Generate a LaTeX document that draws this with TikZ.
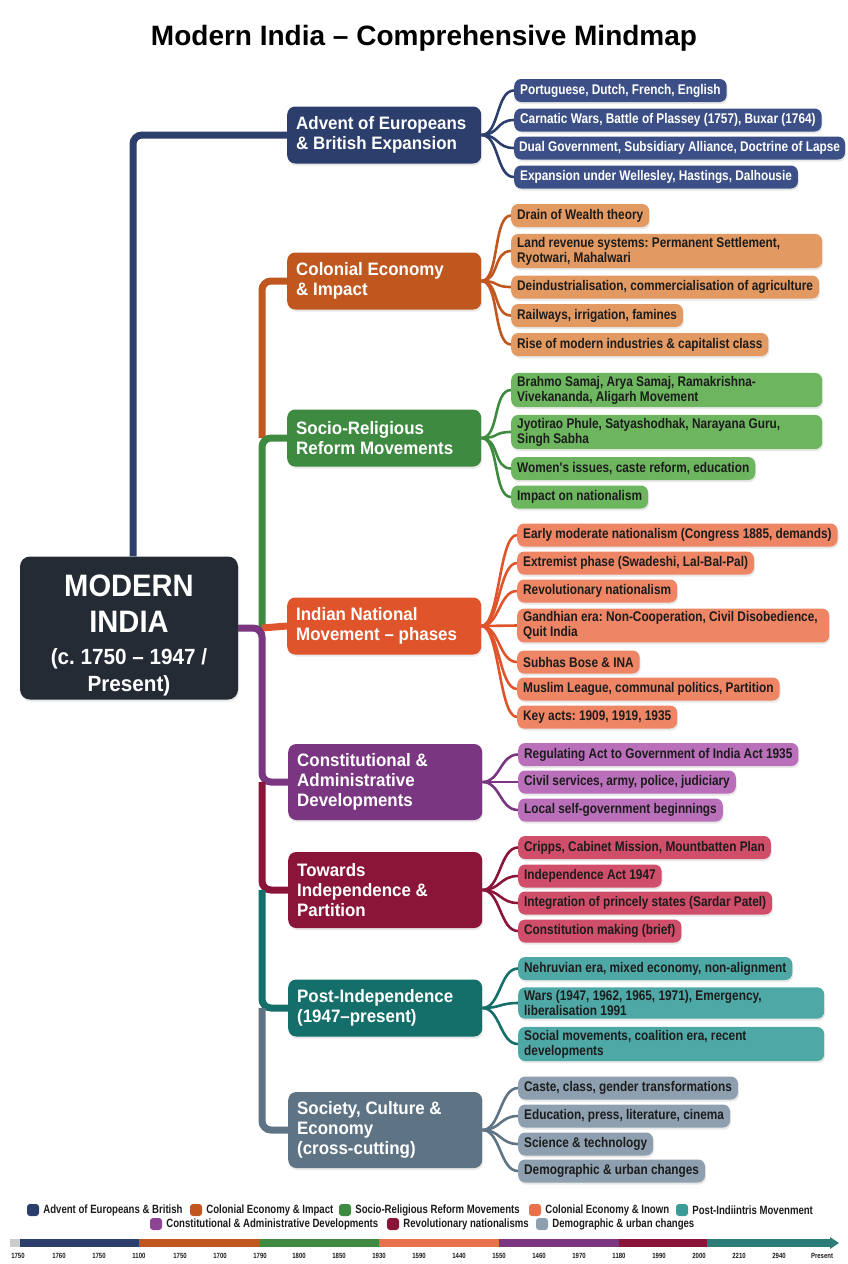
\documentclass[tikz,border=0pt]{standalone}
\usepackage{fontspec}
\setmainfont{Liberation Sans}
\newfontfamily\condfont[FakeStretch=0.845]{Liberation Sans}
\newfontfamily\legfont[FakeStretch=0.8]{Liberation Sans}
\newfontfamily\headfont[FakeStretch=0.94]{Liberation Sans}
\frenchspacing
\usetikzlibrary{positioning, shadows, backgrounds}

\definecolor{rootC}{HTML}{242B35}
\definecolor{inkC}{HTML}{1C1C1C}
\definecolor{advC}{HTML}{2C3E6C}
\definecolor{advL}{HTML}{3C5087}
\definecolor{colC}{HTML}{C0571F}
\definecolor{colL}{HTML}{E39A62}
\definecolor{socC}{HTML}{3E8A41}
\definecolor{socL}{HTML}{6DB65F}
\definecolor{natC}{HTML}{E0542B}
\definecolor{natL}{HTML}{EE8565}
\definecolor{conC}{HTML}{7A3681}
\definecolor{conL}{HTML}{BA6FBA}
\definecolor{parC}{HTML}{8A1538}
\definecolor{parL}{HTML}{D14E6A}
\definecolor{postC}{HTML}{146E69}
\definecolor{postL}{HTML}{4EA9A6}
\definecolor{culC}{HTML}{5E7485}
\definecolor{culL}{HTML}{8EA0AF}
\definecolor{salmonC}{HTML}{E8704A}
\definecolor{aquaC}{HTML}{3A9C97}
\definecolor{plumC}{HTML}{8E4494}

\tikzset{
  shadowed/.style = {drop shadow={opacity=0.18, shadow xshift=1pt, shadow yshift=-2pt}},
  rootbox/.style  = {rectangle, rounded corners=10pt, fill=rootC, text=white,
                   minimum width=218pt, minimum height=143pt, align=center,
                   font=\headfont\bfseries\fontsize{31}{27}\selectfont, shadowed},
  topic/.style  = {rectangle, rounded corners=8pt, fill=#1, text=white, anchor=west,
                   text width=176pt, inner xsep=9pt, minimum height=57pt, align=flush left,
                   font=\headfont\bfseries\fontsize{18}{20}\selectfont, shadowed},
  leaf/.style   = {rectangle, rounded corners=7pt, fill=#1, text=inkC, anchor=west,
                   inner xsep=6pt, inner ysep=3pt, minimum height=23pt, align=flush left,
                   font=\condfont\bfseries\fontsize{14}{15}\selectfont, shadowed},
  trunk/.style  = {draw=#1, line width=7pt, rounded corners=9pt},
  twig/.style   = {draw=#1, line width=2.6pt},
  swatch/.style = {rectangle, rounded corners=3pt, fill=#1, minimum size=12pt, inner sep=0pt},
  legtext/.style = {font=\legfont\bfseries\fontsize{12}{13}\selectfont, text=inkC, inner sep=0pt},
  tick/.style   = {font=\legfont\bfseries\fontsize{7.5}{9}\selectfont, text=inkC, inner sep=0pt}
}

\begin{document}
\begin{tikzpicture}[x=1pt, y=-1pt]
  \useasboundingbox (0,0) rectangle (848,1264);

  \node (title) at (424,38) [font=\bfseries\fontsize{28}{32}\selectfont, text=black]
    {Modern India – Comprehensive Mindmap};

  % centre
  \node (root) at (129,628) [rootbox]
    {\rule{0pt}{36pt}MODERN\\[9pt]INDIA\\[5pt]{\fontsize{22}{27}\selectfont (c. 1750 – 1947 /}\\{\fontsize{22}{27}\selectfont Present)}};
  \coordinate (hub) at (262,628);

  % main topics
  \node (adv)  at (287,135)  [topic=advC]  {Advent of Europeans\\\& British Expansion};
  \node (col)  at (287,281)  [topic=colC]  {Colonial Economy\\\& Impact};
  \node (soc)  at (287,438)  [topic=socC]  {Socio-Religious\\Reform Movements};
  \node (nat)  at (287,626)  [topic=natC]  {Indian National\\Movement – phases};
  \node (con)  at (288,782)  [topic=conC, minimum height=76pt] {Constitutional \&\\Administrative\\Developments};
  \node (part) at (288,890)  [topic=parC, minimum height=76pt] {Towards\\Independence \&\\Partition};
  \node (post) at (288,1008) [topic=postC] {Post-Independence\\(1947–present)};
  \node (cul)  at (288,1130) [topic=culC, minimum height=76pt] {Society, Culture \&\\Economy\\(cross-cutting)};

  % sub topics
  \node (adv1) at (514,90.5) [leaf=advL, text=white] {Portuguese, Dutch, French, English};
  \node (adv2) at (514,120)  [leaf=advL, text=white] {Carnatic Wars, Battle of Plassey (1757), Buxar (1764)};
  \node (adv3) at (514,148)  [leaf=advL, text=white, inner xsep=5pt] {Dual Government, Subsidiary Alliance, Doctrine of Lapse};
  \node (adv4) at (514,177)  [leaf=advL, text=white] {Expansion under Wellesley, Hastings, Dalhousie};

  \node (col1) at (511,215.5) [leaf=colL] {Drain of Wealth theory};
  \node (col2) at (511,251)   [leaf=colL, text width=299pt] {Land revenue systems: Permanent Settlement,\\Ryotwari, Mahalwari};
  \node (col3) at (511,287)   [leaf=colL] {Deindustrialisation, commercialisation of agriculture};
  \node (col4) at (511,315.5) [leaf=colL] {Railways, irrigation, famines};
  \node (col5) at (511,344.5) [leaf=colL] {Rise of modern industries \& capitalist class};

  \node (soc1) at (511,390)   [leaf=socL, text width=299pt] {Brahmo Samaj, Arya Samaj, Ramakrishna-\\Vivekananda, Aligarh Movement};
  \node (soc2) at (511,432)   [leaf=socL, text width=299pt] {Jyotirao Phule, Satyashodhak, Narayana Guru,\\Singh Sabha};
  \node (soc3) at (511,468.5) [leaf=socL] {Women's issues, caste reform, education};
  \node (soc4) at (511,497)   [leaf=socL] {Impact on nationalism};

  \node (nat1) at (517,535)   [leaf=natL] {Early moderate nationalism (Congress 1885, demands)};
  \node (nat2) at (517,563)   [leaf=natL] {Extremist phase (Swadeshi, Lal-Bal-Pal)};
  \node (nat3) at (517,591)   [leaf=natL] {Revolutionary nationalism};
  \node (nat4) at (517,625.5) [leaf=natL, text width=300pt] {Gandhian era: Non-Cooperation, Civil Disobedience,\\Quit India};
  \node (nat5) at (517,662)   [leaf=natL] {Subhas Bose \& INA};
  \node (nat6) at (517,689)   [leaf=natL] {Muslim League, communal politics, Partition};
  \node (nat7) at (517,717)   [leaf=natL] {Key acts: 1909, 1919, 1935};

  \node (con1) at (518,754.5) [leaf=conL] {Regulating Act to Government of India Act 1935};
  \node (con2) at (518,782)   [leaf=conL] {Civil services, army, police, judiciary};
  \node (con3) at (518,810)   [leaf=conL] {Local self-government beginnings};

  \node (part1) at (518,847.5) [leaf=parL] {Cripps, Cabinet Mission, Mountbatten Plan};
  \node (part2) at (518,876)   [leaf=parL] {Independence Act 1947};
  \node (part3) at (518,903)   [leaf=parL] {Integration of princely states (Sardar Patel)};
  \node (part4) at (518,931)   [leaf=parL] {Constitution making (brief)};

  \node (post1) at (518,968.5) [leaf=postL] {Nehruvian era, mixed economy, non-alignment};
  \node (post2) at (518,1003)  [leaf=postL, text width=294pt] {Wars (1947, 1962, 1965, 1971), Emergency,\\liberalisation 1991};
  \node (post3) at (518,1044)  [leaf=postL, text width=294pt] {Social movements, coalition era, recent\\developments};

  \node (cul1) at (518,1088) [leaf=culL] {Caste, class, gender transformations};
  \node (cul2) at (518,1116) [leaf=culL] {Education, press, literature, cinema};
  \node (cul3) at (518,1144) [leaf=culL] {Science \& technology};
  \node (cul4) at (518,1171) [leaf=culL] {Demographic \& urban changes};

  \begin{scope}[on background layer]
    % trunk lines
    \draw[trunk=advC]  ([xshift=4pt]root.north) |- (adv.west);
    \draw[trunk=colC]  (soc.west -| hub) |- (col.west);
    \draw[trunk=socC]  (hub) |- (soc.west);
    \draw[trunk=natC]  (hub) -- (nat.west);
    \draw[trunk=conC]  (root.east |- hub) -- (hub) |- (con.west);
    \draw[trunk=parC]  (con.west -| hub) |- (part.west);
    \draw[trunk=postC] (part.west -| hub) |- (post.west);
    \draw[trunk=culC]  (post.west -| hub) |- (cul.west);

    % twigs
    \draw[twig=advC] (adv.east) .. controls +(18,0) and +(-18,0) .. (adv1.west);
    \draw[twig=advC] (adv.east) .. controls +(18,0) and +(-18,0) .. (adv2.west);
    \draw[twig=advC] (adv.east) .. controls +(18,0) and +(-18,0) .. (adv3.west);
    \draw[twig=advC] (adv.east) .. controls +(18,0) and +(-18,0) .. (adv4.west);

    \draw[twig=colC] (col.east) .. controls +(18,0) and +(-18,0) .. (col1.west);
    \draw[twig=colC] (col.east) .. controls +(18,0) and +(-18,0) .. (col2.west);
    \draw[twig=colC] (col.east) .. controls +(18,0) and +(-18,0) .. (col3.west);
    \draw[twig=colC] (col.east) .. controls +(18,0) and +(-18,0) .. (col4.west);
    \draw[twig=colC] (col.east) .. controls +(18,0) and +(-18,0) .. (col5.west);

    \draw[twig=socC] (soc.east) .. controls +(18,0) and +(-18,0) .. (soc1.west);
    \draw[twig=socC] (soc.east) .. controls +(18,0) and +(-18,0) .. (soc2.west);
    \draw[twig=socC] (soc.east) .. controls +(18,0) and +(-18,0) .. (soc3.west);
    \draw[twig=socC] (soc.east) .. controls +(18,0) and +(-18,0) .. (soc4.west);

    \draw[twig=natC] (nat.east) .. controls +(18,0) and +(-18,0) .. (nat1.west);
    \draw[twig=natC] (nat.east) .. controls +(18,0) and +(-18,0) .. (nat2.west);
    \draw[twig=natC] (nat.east) .. controls +(18,0) and +(-18,0) .. (nat3.west);
    \draw[twig=natC] (nat.east) .. controls +(18,0) and +(-18,0) .. (nat4.west);
    \draw[twig=natC] (nat.east) .. controls +(18,0) and +(-18,0) .. (nat5.west);
    \draw[twig=natC] (nat.east) .. controls +(18,0) and +(-18,0) .. (nat6.west);
    \draw[twig=natC] (nat.east) .. controls +(18,0) and +(-18,0) .. (nat7.west);

    \draw[twig=conC] (con.east) .. controls +(18,0) and +(-18,0) .. (con1.west);
    \draw[twig=conC] (con.east) .. controls +(18,0) and +(-18,0) .. (con2.west);
    \draw[twig=conC] (con.east) .. controls +(18,0) and +(-18,0) .. (con3.west);

    \draw[twig=parC] (part.east) .. controls +(18,0) and +(-18,0) .. (part1.west);
    \draw[twig=parC] (part.east) .. controls +(18,0) and +(-18,0) .. (part2.west);
    \draw[twig=parC] (part.east) .. controls +(18,0) and +(-18,0) .. (part3.west);
    \draw[twig=parC] (part.east) .. controls +(18,0) and +(-18,0) .. (part4.west);

    \draw[twig=postC] (post.east) .. controls +(18,0) and +(-18,0) .. (post1.west);
    \draw[twig=postC] (post.east) .. controls +(18,0) and +(-18,0) .. (post2.west);
    \draw[twig=postC] (post.east) .. controls +(18,0) and +(-18,0) .. (post3.west);

    \draw[twig=culC] (cul.east) .. controls +(18,0) and +(-18,0) .. (cul1.west);
    \draw[twig=culC] (cul.east) .. controls +(18,0) and +(-18,0) .. (cul2.west);
    \draw[twig=culC] (cul.east) .. controls +(18,0) and +(-18,0) .. (cul3.west);
    \draw[twig=culC] (cul.east) .. controls +(18,0) and +(-18,0) .. (cul4.west);
  \end{scope}

  % legend
  \node (lg1) at (33,1210)  [swatch=advC] {};
  \node (lt1) [legtext, right=4pt of lg1] {Advent of Europeans \& British};
  \node (lg2) at (196,1210) [swatch=colC] {};
  \node (lt2) [legtext, right=4pt of lg2] {Colonial Economy \& Impact};
  \node (lg3) at (345,1210) [swatch=socC] {};
  \node (lt3) [legtext, right=4pt of lg3] {Socio-Religious Reform Movements};
  \node (lg4) at (535,1210) [swatch=salmonC] {};
  \node (lt4) [legtext, right=4pt of lg4] {Colonial Economy \& Inown};
  \node (lg5) at (682,1210) [swatch=aquaC] {};
  \node (lt5) [legtext, right=4pt of lg5] {Post-Indiintris Movenment};
  \node (lg6) at (156,1224) [swatch=plumC] {};
  \node (lt6) [legtext, right=4pt of lg6] {Constitutional \& Administrative Developments};
  \node (lg7) at (393,1224) [swatch=parC] {};
  \node (lt7) [legtext, right=4pt of lg7] {Revolutionary nationalisms};
  \node (lg8) at (542,1224) [swatch=culL] {};
  \node (lt8) [legtext, right=4pt of lg8] {Demographic \& urban changes};

  % time bar
  \fill[black!20]   (10,1239)  rectangle (20,1247);
  \fill[advC]       (20,1239)  rectangle (139,1247);
  \fill[colC]       (139,1239) rectangle (260,1247);
  \fill[socC]       (260,1239) rectangle (379,1247);
  \fill[salmonC]    (379,1239) rectangle (499,1247);
  \fill[conC]       (499,1239) rectangle (619,1247);
  \fill[parC]       (619,1239) rectangle (707,1247);
  \fill[postC!90!white] (707,1239) rectangle (831,1247);
  \fill[postC!90!white] (830,1237) -- (839,1243) -- (830,1249) -- cycle;

  \node (t1)  at (18,1256)  [tick] {1750};
  \node (t2)  at (59,1256)  [tick] {1760};
  \node (t3)  at (99,1256)  [tick] {1750};
  \node (t4)  at (139,1256) [tick] {1100};
  \node (t5)  at (180,1256) [tick] {1750};
  \node (t6)  at (220,1256) [tick] {1700};
  \node (t7)  at (260,1256) [tick] {1790};
  \node (t8)  at (299,1256) [tick] {1800};
  \node (t9)  at (339,1256) [tick] {1850};
  \node (t10) at (379,1256) [tick] {1930};
  \node (t11) at (419,1256) [tick] {1590};
  \node (t12) at (459,1256) [tick] {1440};
  \node (t13) at (499,1256) [tick] {1550};
  \node (t14) at (539,1256) [tick] {1460};
  \node (t15) at (579,1256) [tick] {1970};
  \node (t16) at (619,1256) [tick] {1180};
  \node (t17) at (659,1256) [tick] {1990};
  \node (t18) at (699,1256) [tick] {2000};
  \node (t19) at (739,1256) [tick] {2210};
  \node (t20) at (779,1256) [tick] {2940};
  \node (t21) at (822,1256) [tick] {Present};
\end{tikzpicture}
\end{document}
